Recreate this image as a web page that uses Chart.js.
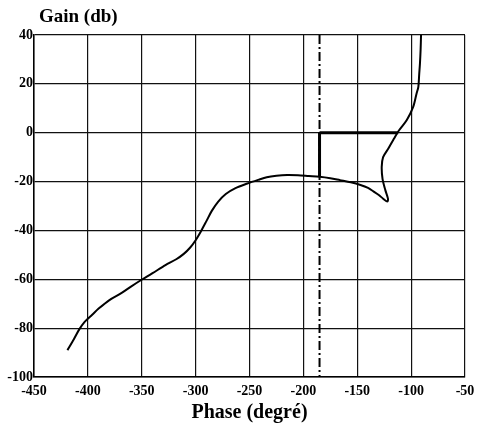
<!DOCTYPE html>
<html>
<head>
<meta charset="utf-8">
<script src="https://cdn.jsdelivr.net/npm/chart.js@4/dist/chart.umd.min.js"></script>
<style>
  html, body { margin: 0; padding: 0; background: #fff; }
  #wrap { width: 477px; height: 426px; }
</style>
</head>
<body>
<div id="wrap"><canvas id="canvas" width="477" height="426"></canvas></div>
<script>
// Nichols plot (Black)
var phase = [-419, -413, -408, -403, -396, -390, -380, -369, -360, -352, -340, -328, -318, -311, -305, -300, -295, -290, -285, -279, -272, -263, -252, -242, -234, -225, -215, -205, -195, -185, -175, -166, -156, -147, -140, -135, -130, -126, -122, -121.5, -124, -126.5, -127.3, -126, -121, -116, -111, -104, -98, -95, -93.3, -92.5, -91.8, -91.2, -90.8];
var gain = [-89, -84.5, -80.5, -77.4, -74.5, -72, -68.5, -65.7, -63, -60.7, -57.5, -54.2, -51.8, -49.6, -47, -44, -40.3, -36.2, -32, -28.2, -25.1, -22.7, -20.8, -19.3, -18.2, -17.6, -17.3, -17.4, -17.7, -18, -18.6, -19.4, -20.3, -21.4, -22.6, -24, -25.5, -27, -28.2, -27, -23.4, -19, -14, -10, -6.4, -2.5, 1.1, 5.2, 10.7, 16, 18.8, 24, 28.4, 34, 40];

var critPhase = -185;          // dash-dot vertical line
var marginPhase = [-185, -112]; // thick line on 0 dB
var marginGain = [0, -18];      // thick vertical segment

var xTicks = [-450, -400, -350, -300, -250, -200, -150, -100, -50];
var yTicks = [-100, -80, -60, -40, -20, 0, 20, 40];

var serif = '"Liberation Serif", "Times New Roman", serif';

function pts(xs, ys) {
    return xs.map(function(x, i) { return { x: x, y: ys[i] }; });
}

var gainTitle = {
    id: 'gainTitle',
    beforeDraw: function(chart) {
        var c = chart.ctx;
        c.save();
        c.fillStyle = '#fff';
        c.fillRect(0, 0, chart.width, chart.height);
        c.restore();
    },
    afterDraw: function(chart) {
        var c = chart.ctx;
        c.save();
        c.fillStyle = '#000';
        c.font = 'bold 19px ' + serif;
        c.textBaseline = 'middle';
        c.fillText('Gain (db)', 39, 17);
        c.restore();
    }
};

var ctx = document.getElementById('canvas').getContext('2d');
var config = {
    type: 'scatter',
    data: {
        datasets: [{
            label: 'courbe',
            data: pts(phase, gain),
            showLine: true,
            borderColor: '#000',
            borderWidth: 2,
            pointRadius: 0,
            tension: 0.3
        }, {
            label: 'critique',
            data: [{ x: critPhase, y: yTicks[yTicks.length - 1] }, { x: critPhase, y: yTicks[0] }],
            showLine: true,
            borderColor: '#000',
            borderWidth: 2,
            borderDash: [9, 3, 2, 3],
            pointRadius: 0
        }, {
            label: 'marge phase',
            data: [{ x: marginPhase[0], y: 0 }, { x: marginPhase[1], y: 0 }],
            showLine: true,
            borderColor: '#000',
            borderWidth: 3,
            pointRadius: 0
        }, {
            label: 'marge gain',
            data: [{ x: critPhase, y: marginGain[0] }, { x: critPhase, y: marginGain[1] }],
            showLine: true,
            borderColor: '#000',
            borderWidth: 3,
            pointRadius: 0
        }]
    },
    options: {
        responsive: false,
        animation: false,
        layout: { padding: { left: 0, right: 12, top: 35, bottom: 0 } },
        plugins: {
            legend: { display: false },
            tooltip: { enabled: false }
        },
        scales: {
            x: {
                type: 'linear',
                min: xTicks[0],
                max: xTicks[xTicks.length - 1],
                afterBuildTicks: function(s) { s.ticks = xTicks.map(function(v) { return { value: v }; }); },
                afterFit: function(s) { s.height = 49; s.paddingLeft = 0; s.paddingRight = 0; },
                grid: { color: '#111', lineWidth: 1.2, drawTicks: false },
                border: { color: '#000', width: 1.5 },
                ticks: {
                    color: '#000',
                    padding: 6,
                    maxRotation: 0,
                    font: { family: serif, size: 14, weight: 'bold' }
                },
                title: {
                    display: true,
                    text: 'Phase (degré)',
                    color: '#000',
                    padding: { top: 0, bottom: 1 },
                    font: { family: serif, size: 20, weight: 'bold' }
                }
            },
            y: {
                type: 'linear',
                min: yTicks[0],
                max: yTicks[yTicks.length - 1],
                afterBuildTicks: function(s) { s.ticks = yTicks.map(function(v) { return { value: v }; }); },
                afterFit: function(s) { s.width = 34; s.paddingTop = 0; s.paddingBottom = 0; },
                grid: { color: '#111', lineWidth: 1.2, drawTicks: false },
                border: { color: '#000', width: 1.5 },
                ticks: {
                    color: '#000',
                    padding: 1,
                    font: { family: serif, size: 14, weight: 'bold' }
                }
            }
        }
    },
    plugins: [gainTitle]
};

var chart = new Chart(ctx, config);
</script>
</body>
</html>
